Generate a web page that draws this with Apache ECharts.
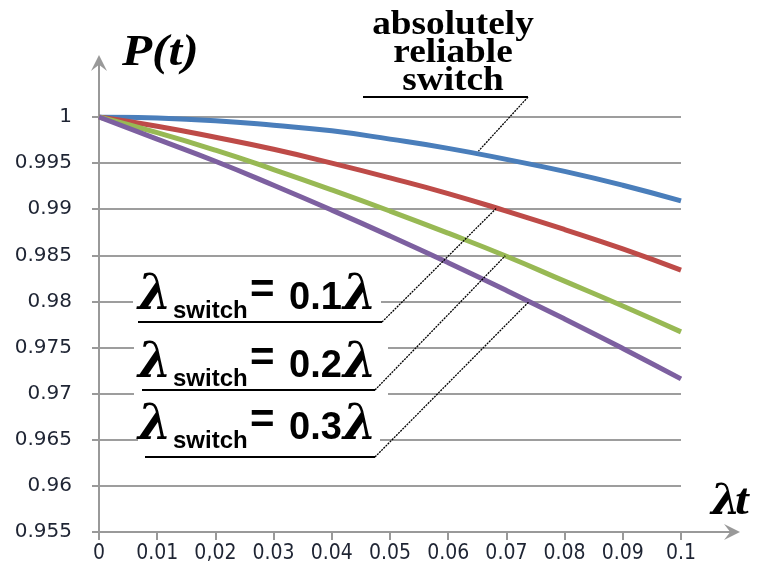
<!DOCTYPE html>
<html>
<head>
<meta charset="utf-8">
<script src="https://cdn.jsdelivr.net/npm/echarts@6/dist/echarts.min.js"></script>
<style>
  html, body { margin: 0; padding: 0; background: #fff; }
  #chart { width: 758px; height: 571px; }
</style>
</head>
<body>
<div id="chart"></div>
<script>
// λt sample points and the labels printed under the ticks
const lambdaT = [0, 0.01, 0.02, 0.03, 0.04, 0.05, 0.06, 0.07, 0.08, 0.09, 0.1];
const xTickLabels = ['0', '0.01', '0,02', '0.03', '0.04', '0.05', '0.06', '0.07', '0.08', '0.09', '0.1'];

// reliability P(t) of the redundant pair for each switch failure rate
const pReliableSwitch = [1, 0.9999, 0.9996, 0.9991, 0.9985, 0.9976, 0.9966, 0.9954, 0.9941, 0.9926, 0.9909];
const pSwitch01 = [1, 0.9990, 0.9978, 0.9965, 0.9950, 0.9934, 0.9917, 0.9898, 0.9878, 0.9857, 0.9834];
const pSwitch02 = [1, 0.9983, 0.9964, 0.9943, 0.9921, 0.9898, 0.9874, 0.9849, 0.9822, 0.9795, 0.9767];
const pSwitch03 = [1, 0.9976, 0.9952, 0.9926, 0.9899, 0.9871, 0.9842, 0.9812, 0.9781, 0.9749, 0.9716];

// y axis range and step
const yMin = 0.955, yMax = 1, yStep = 0.005;
// switch rate factors written in the callouts
const switchFactors = ['0.1', '0.2', '0.3'];

const chart = echarts.init(document.getElementById('chart'));

const GRID_GREY = '#9d9d9d';
const AXIS_GREY = '#999999';
const TEXT_DARK = '#1e2433';
const ARROW = 'path://M50 0 L100 100 L56 66 L50 100 L44 66 L0 100 Z';

function lineSeries(name, data, color) {
  return {
    name, type: 'line', xAxisIndex: 0, yAxisIndex: 0,
    data: lambdaT.map((t, i) => [t, data[i]]),
    smooth: true, showSymbol: false, symbol: 'none',
    lineStyle: { color, width: 5 }, z: 3
  };
}

const option = {
  backgroundColor: '#fff',
  animation: false,
  grid: [
    { left: 99, top: 117, width: 582, height: 415 },
    { left: 99, top: 63, right: 26, bottom: 39 }
  ],
  xAxis: [
    {
      gridIndex: 0, type: 'value', min: 0, max: 0.1, interval: 0.01,
      axisLine: { show: false },
      axisTick: { show: true, length: 8, lineStyle: { color: AXIS_GREY, width: 2 } },
      splitLine: { show: false },
      axisLabel: {
        margin: 11,
        formatter: v => xTickLabels[Math.round(v / 0.01)],
        fontFamily: '"Liberation Sans Narrow", "DejaVu Sans Condensed", sans-serif',
        fontSize: 21, color: TEXT_DARK
      }
    },
    {
      gridIndex: 1, type: 'value', min: 0, max: 1,
      axisLine: { show: true, symbol: ['none', ARROW], symbolSize: [16, 26], lineStyle: { color: AXIS_GREY, width: 2 } },
      axisTick: { show: false }, axisLabel: { show: false }, splitLine: { show: false }
    }
  ],
  yAxis: [
    {
      gridIndex: 0, type: 'value', min: yMin, max: yMax, interval: yStep,
      axisLine: { show: false },
      axisTick: { show: true, length: 7, lineStyle: { color: AXIS_GREY, width: 2 } },
      splitLine: { show: true, lineStyle: { color: GRID_GREY, width: 2 } },
      axisLabel: {
        margin: 27, fontFamily: '"DejaVu Sans", sans-serif', fontSize: 20, color: TEXT_DARK
      }
    },
    {
      gridIndex: 1, type: 'value', min: 0, max: 1,
      axisLine: { show: true, symbol: ['none', ARROW], symbolSize: [16, 26], lineStyle: { color: AXIS_GREY, width: 2 } },
      axisTick: { show: false }, axisLabel: { show: false }, splitLine: { show: false }
    }
  ],
  series: [
    lineSeries('absolutely reliable switch', pReliableSwitch, '#4a7ebb'),
    lineSeries('λswitch = 0.1λ', pSwitch01, '#be4b48'),
    lineSeries('λswitch = 0.2λ', pSwitch02, '#98b954'),
    lineSeries('λswitch = 0.3λ', pSwitch03, '#7d60a0')
  ]
};

chart.setOption(option);

// value of a curve at an arbitrary λt, read between its sample points
function valueAt(arr, t) {
  const i = Math.min(Math.floor(t / 0.01), lambdaT.length - 2);
  const f = (t - lambdaT[i]) / (lambdaT[i + 1] - lambdaT[i]);
  return arr[i] + f * (arr[i + 1] - arr[i]);
}
function onCurve(arr, t) {
  return chart.convertToPixel({ xAxisIndex: 0, yAxisIndex: 0 }, [t, valueAt(arr, t)]);
}

const SERIF = '"Liberation Serif", "DejaVu Serif", serif';
const GREEK = '"DejaVu Serif", serif';
const SANS = '"Liberation Sans", Arial, sans-serif';
const graphics = [];

function text(x, y, str, font, extra) {
  graphics.push(Object.assign({
    type: 'text', x, y, z: 100,
    style: Object.assign({ text: str, font, fill: '#000', textAlign: 'left', textVerticalAlign: 'middle' }, extra && extra.style)
  }, extra && extra.props));
}
function line(x1, y1, x2, y2, width, dash) {
  graphics.push({
    type: 'line', z: 90,
    shape: { x1, y1, x2, y2 },
    style: { stroke: '#000', lineWidth: width, lineDash: dash || null }
  });
}
function whiteBox(x, y, w, h) {
  graphics.push({ type: 'rect', z: 50, shape: { x, y, width: w, height: h }, style: { fill: '#fff' } });
}

// axis titles
text(122, 54, 'P(t)', 'italic bold 44px ' + SERIF, { props: { scaleX: 1.12 } });
text(711, 503, 'λ', 'italic bold 42px ' + GREEK);
text(735, 503, 't', 'italic bold 44px ' + SERIF, { props: { scaleX: 1.12 } });

// callout for the ideal switch
text(453, 11, 'absolutely\nreliable\nswitch', 'bold 33px ' + SERIF, {
  style: { textAlign: 'center', textVerticalAlign: 'top', lineHeight: 28 },
  props: { scaleX: 1.13 }
});
const blueEnd = onCurve(pReliableSwitch, 0.0652);
line(363, 97, 528, 97, 2);
line(528, 97, blueEnd[0], blueEnd[1] - 3, 1.3, [2, 1]);

// callouts for the imperfect switches
const labelRows = [
  { base: 312, under: [138, 382], box: [133, 278, 248, 40], curve: pSwitch01, at: 0.0683 },
  { base: 380, under: [142, 375], box: [134, 335, 254, 62], curve: pSwitch02, at: 0.0698 },
  { base: 442, under: [145, 375], box: [138, 402, 242, 46], curve: pSwitch03, at: 0.0739 }
];
labelRows.forEach((row, i) => {
  const b = row.base;
  whiteBox(row.box[0], row.box[1], row.box[2], row.box[3]);
  text(138, b - 15, 'λ', 'italic bold 48px ' + GREEK);
  text(173, b - 1, 'switch', 'bold 24px ' + SANS);
  text(250, b - 21, '=', 'bold 42px ' + SANS);
  text(289, b - 13, switchFactors[i], 'bold 38px ' + SANS);
  text(343, b - 15, 'λ', 'italic bold 48px ' + GREEK);
  const ul = b + 10 + (i === 2 ? 5 : 0);
  line(row.under[0], ul, row.under[1], ul, 2);
  const end = onCurve(row.curve, row.at);
  line(row.under[1], ul, end[0], end[1], 1.3, [2, 1]);
});

chart.setOption({ graphic: graphics });
</script>
</body>
</html>
